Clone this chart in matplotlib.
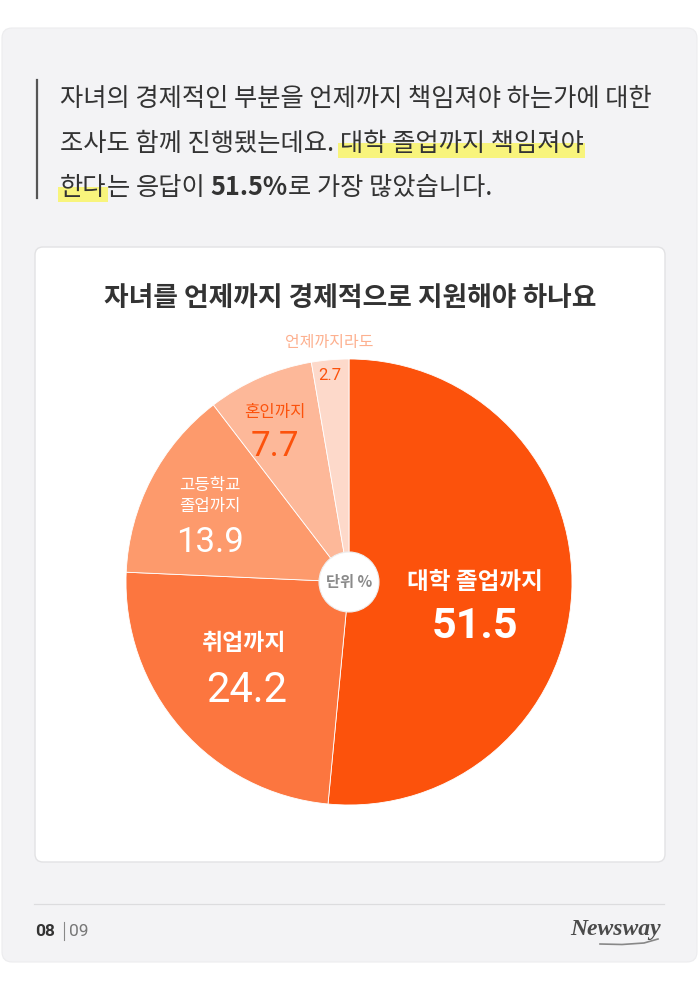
import matplotlib
matplotlib.use("Agg")
import matplotlib.pyplot as plt
from matplotlib.patches import FancyBboxPatch, Rectangle, Circle

plt.rcParams['font.family'] = ['Noto Sans CJK KR', 'DejaVu Sans']

# data
labels = ["대학 졸업까지", "취업까지", "고등학교\n졸업까지", "혼인까지", "언제까지라도"]
values = [51.5, 24.2, 13.9, 7.7, 2.7]
colors = ["#fc520c", "#fc763f", "#fd9a6c", "#fdb899", "#fdd9ca"]

title = "자녀를 언제까지 경제적으로 지원해야 하나요"
unit = "단위 %"

fig = plt.figure(figsize=(7, 9.9), dpi=100)
ax = fig.add_axes([0, 0, 1, 1])
ax.set_xlim(0, 700)
ax.set_ylim(990, 0)
ax.axis("off")
fig.patch.set_facecolor("white")

# outer card and inner card
ax.add_patch(FancyBboxPatch((2, 28), 695, 934, boxstyle="round,pad=0,rounding_size=10",
                            fc="#f3f3f5", ec="#ececee", lw=0.8))
ax.add_patch(FancyBboxPatch((35, 247), 630, 615, boxstyle="round,pad=0,rounding_size=8",
                            fc="white", ec="#e2e2e4", lw=1))

# intro text with highlights
ax.plot([37, 37], [80, 198], color="#555555", lw=1.6)
renderer = fig.canvas.get_renderer()
body_fs = 18.2


def width_of(s, weight="medium"):
    t = ax.text(0, 0, s, fontsize=body_fs, fontweight=weight)
    w = t.get_window_extent(renderer).width
    t.remove()
    return w


gap = width_of("가 가") - width_of("가가")


def draw_line(x, y, runs):
    for s, weight, hl in runs:
        if s == " ":
            x += gap
            continue
        w = width_of(s, weight)
        if hl:
            ax.add_patch(Rectangle((x - 2, y - 8), w + 3, 15, fc="#f8f47c", ec="none", zorder=2))
        ax.text(x, y, s, fontsize=body_fs, fontweight=weight, color="#333333",
                va="baseline", ha="left", zorder=3)
        x += w


draw_line(60, 106, [("자녀의 경제적인 부분을 언제까지 책임져야 하는가에 대한", "medium", False)])
draw_line(60, 151, [("조사도 함께 진행됐는데요.", "medium", False), (" ", "medium", False),
                    ("대학 졸업까지 책임져야", "medium", True)])
draw_line(60, 195, [("한다", "medium", True), ("는", "medium", False), (" ", "medium", False),
                    ("응답이", "medium", False), (" ", "medium", False),
                    ("51.5%", "bold", False), ("로 가장 많았습니다.", "medium", False)])

# chart title
ax.text(350, 298, title, fontsize=19.3, fontweight="bold", color="#333333",
        ha="center", va="center")

# pie
cx, cy, r = 349, 582, 223
pax = fig.add_axes([(cx - r) / 700, (990 - cy - r) / 990, 2 * r / 700, 2 * r / 990])
pax.pie(values, colors=colors, startangle=90, counterclock=False,
        wedgeprops=dict(edgecolor="white", linewidth=0.6))
pax.set_xlim(-1, 1)
pax.set_ylim(-1, 1)
pax.set_aspect("equal")
pax.axis("off")

# center badge
pax.add_patch(Circle((0, 0), 30 / r, fc="white", ec="#eeeeee", lw=0.8, zorder=5))
pax.text(0, 0, unit, fontsize=11, fontweight="bold", color="#8a8a8a",
         ha="center", va="center", zorder=6)

# slice labels (drawn with the pie axes, placed in page pixels)
num_font = ["Roboto", "DejaVu Sans"]
pt = ax.transData
pax.text(475, 582, labels[0], fontsize=17, fontweight="bold", color="white",
         ha="center", va="center", transform=pt)
pax.text(475, 627, f"{values[0]}", fontsize=31, fontweight="bold", color="white",
         ha="center", va="center", family=num_font, transform=pt)
pax.text(244, 643, labels[1], fontsize=16.5, fontweight="bold", color="white",
         ha="center", va="center", transform=pt)
pax.text(247, 690, f"{values[1]}", fontsize=30, color="white",
         ha="center", va="center", family=num_font, transform=pt)
pax.text(210, 496, labels[2], fontsize=12, color="white",
         ha="center", va="center", linespacing=1.35, transform=pt)
pax.text(210, 543, f"{values[2]}", fontsize=25, color="white",
         ha="center", va="center", family=num_font, transform=pt)
pax.text(275, 412, labels[3], fontsize=12, color="#fc520c",
         ha="center", va="center", transform=pt)
pax.text(275, 446, f"{values[3]}", fontsize=25, color="#fc520c",
         ha="center", va="center", family=num_font, transform=pt)
pax.text(329, 342, labels[4], fontsize=11.5, color="#fdb08f",
         ha="center", va="center", transform=pt)
pax.text(330, 376, f"{values[4]}", fontsize=12, color="#fc520c",
         ha="center", va="center", family=num_font, transform=pt)

# footer
ax.plot([34, 664], [904, 904], color="#dcdcde", lw=0.9)
ax.text(35, 931, "08", fontsize=12.5, fontweight="bold", color="#333333", ha="left", va="center",
        family=num_font)
ax.plot([63.5, 63.5], [922, 940], color="#888888", lw=0.8)
ax.text(69, 931, "09", fontsize=12.5, color="#777777", ha="left", va="center",
        family=num_font)
ax.text(661, 929, "Newsway", fontsize=17, fontweight="bold", style="italic", color="#4a4a4a",
        ha="right", va="center", family=["Liberation Serif", "DejaVu Serif"])
ax.plot([600, 622, 644, 658], [944, 944.5, 943, 939], color="#888888", lw=1.2)

fig.savefig("out.png", dpi=100)
